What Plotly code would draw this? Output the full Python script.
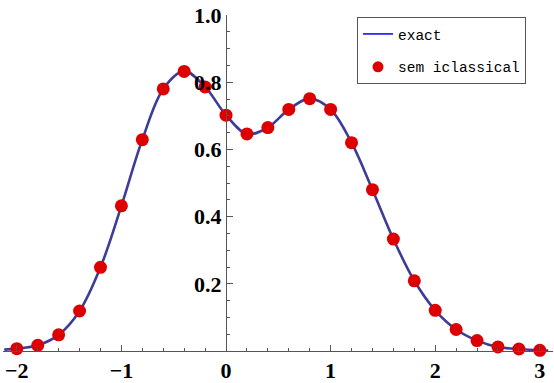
import plotly.graph_objects as go

# semiclassical sample points
x_pts = [-2.0, -1.8, -1.6, -1.4, -1.2, -1.0, -0.8, -0.6, -0.4, -0.2, 0.0, 0.2, 0.4,
         0.6, 0.8, 1.0, 1.2, 1.4, 1.6, 1.8, 2.0, 2.2, 2.4, 2.6, 2.8, 3.0]
semi_y = [0.007, 0.017, 0.048, 0.119, 0.249, 0.432, 0.629, 0.780, 0.832, 0.786, 0.702,
          0.646, 0.665, 0.719, 0.751, 0.719, 0.620, 0.480, 0.333, 0.209, 0.121, 0.064,
          0.031, 0.012, 0.006, 0.002]

# exact curve
exact_x = [-2.12, -2.0, -1.8, -1.6, -1.4, -1.2, -1.0, -0.8, -0.6, -0.4, -0.2, 0.0, 0.2, 0.4,
           0.6, 0.8, 1.0, 1.2, 1.4, 1.6, 1.8, 2.0, 2.2, 2.4, 2.6, 2.8, 3.0, 3.08]
exact_y = [0.004, 0.007, 0.017, 0.048, 0.119, 0.249, 0.432, 0.629, 0.780, 0.833, 0.786, 0.702,
           0.646, 0.665, 0.719, 0.751, 0.719, 0.620, 0.480, 0.333, 0.209, 0.121, 0.064,
           0.031, 0.012, 0.006, 0.002, 0.001]

x_ticks = [-2, -1, 0, 1, 2, 3]
y_ticks = [0.2, 0.4, 0.6, 0.8, 1.0]
y_tick_text = ["0.2", "0.4", "0.6", "0.8", "1.0"]

XMIN, XMAX = -2.132, 3.126
YMIN, YMAX = 0.0, 1.0

CURVE = "#3D3D99"
DOT = "#DD0000"
AX = "#555555"
tickfont = dict(family="Liberation Serif", size=22, color="black", weight="bold")

fig = go.Figure()
fig.add_trace(go.Scatter(x=exact_x, y=exact_y, mode="lines", line=dict(color=CURVE, width=2.6, shape="spline"),
                         showlegend=False, hoverinfo="skip", cliponaxis=False))
fig.add_trace(go.Scatter(x=x_pts, y=semi_y, mode="markers", marker=dict(color=DOT, size=13),
                         showlegend=False, cliponaxis=False))
# legend entries
fig.add_trace(go.Scatter(x=[None], y=[None], mode="lines", line=dict(color="#0000FF", width=1.5),
                         name="exact", legendgroup="a"))
fig.add_trace(go.Scatter(x=[None], y=[None], mode="markers", marker=dict(color=DOT, size=11),
                         name="sem iclassical", legendgroup="b"))

fig.update_layout(
    width=554, height=383,
    margin=dict(l=3, r=1, t=15, b=32, autoexpand=False),
    plot_bgcolor="white", paper_bgcolor="white",
    xaxis=dict(range=[XMIN, XMAX], showgrid=False, zeroline=False, showline=True, linecolor=AX, linewidth=1,
               automargin=False,
               tickmode="array", tickvals=x_ticks, ticks="inside", ticklen=6, tickcolor=AX,
               minor=dict(tick0=0, dtick=0.2, ticks="inside", ticklen=3, tickcolor=AX),
               tickfont=tickfont, fixedrange=True),
    yaxis=dict(range=[YMIN, YMAX], showgrid=False, zeroline=False, showline=True, linecolor=AX, linewidth=1,
               automargin=False,
               anchor="free", position=(0 - XMIN) / (XMAX - XMIN),
               tickmode="array", tickvals=y_ticks, ticktext=y_tick_text, ticks="inside", ticklen=6, tickcolor=AX,
               minor=dict(tick0=0, dtick=0.05, ticks="inside", ticklen=3, tickcolor=AX),
               tickfont=tickfont, fixedrange=True),
    legend=dict(x=(357 - 3) / 550, y=(351 - 17) / 336, xanchor="left", yanchor="top",
                bordercolor="#555555", borderwidth=1, bgcolor="white",
                font=dict(family="Liberation Mono", size=14.5, color="black"),
                tracegroupgap=11, itemwidth=30),
    showlegend=True,
)

fig.write_html("out.html", config={"displayModeBar": False},
               post_script="document.body.style.margin='0';document.body.style.padding='0';")
